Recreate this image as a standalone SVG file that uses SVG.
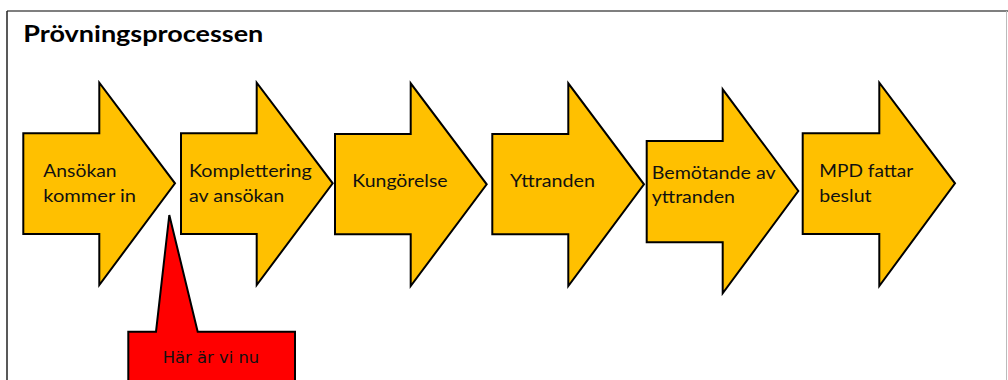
<svg xmlns="http://www.w3.org/2000/svg" width="1008" height="380" viewBox="0 0 1008 380">
<style>
.arrow{fill:#FFC000;stroke:#000;stroke-width:2;stroke-linejoin:miter}
.lbl{font-family:Lato,"Open Sans",sans-serif;font-size:17px;fill:#111}
.title{font-family:Lato,"Open Sans",sans-serif;font-size:22.5px;font-weight:bold;fill:#000}
.callout{fill:#FF0000;stroke:#000;stroke-width:2}
.cl{font-family:"DejaVu Sans",sans-serif;font-size:16.4px;fill:#111}
</style>
<rect x="0" y="0" width="1008" height="380" fill="#fff"/>
<g id="frame">
<line x1="7" y1="11" x2="1008" y2="11" stroke="#555" stroke-width="1.5"/>
<line x1="7" y1="11" x2="7" y2="380" stroke="#222" stroke-width="1.5"/>
<line x1="1006.5" y1="11" x2="1006.5" y2="380" stroke="#bbb" stroke-width="1"/>
</g>
<text class="title" x="23.3" y="41.5" textLength="240" lengthAdjust="spacingAndGlyphs">Prövningsprocessen</text>
<g id="connectors"></g>
<g id="step1">
<polygon class="arrow" points="23.3,133.3 99.3,133.3 99.3,82.7 175,183.3 99.3,285 99.3,234 23.3,234"/>
<text class="lbl" x="43.3" y="176.7" textLength="73.3" lengthAdjust="spacingAndGlyphs">Ansökan</text>
<text class="lbl" x="43.3" y="201.7" textLength="92.7" lengthAdjust="spacingAndGlyphs">kommer in</text>
</g>
<g id="step2">
<polygon class="arrow" points="181,133.3 256.7,133.3 256.7,82.7 332.7,183.3 256.7,285 256.7,234 181,234"/>
<text class="lbl" x="189" y="176.7" textLength="122.7" lengthAdjust="spacingAndGlyphs">Komplettering</text>
<text class="lbl" x="189" y="201.7" textLength="95.3" lengthAdjust="spacingAndGlyphs">av ansökan</text>
</g>
<g id="step3">
<polygon class="arrow" points="335,134 410.7,134 410.7,83.3 486.7,184.3 410.7,286 410.7,234.3 335,234.3"/>
<text class="lbl" x="352.3" y="187.3" textLength="95.3" lengthAdjust="spacingAndGlyphs">Kungörelse</text>
</g>
<g id="step4">
<polygon class="arrow" points="492.3,134 568.3,134 568.3,83.3 644,184.3 568.3,286 568.3,234.3 492.3,234.3"/>
<text class="lbl" x="510" y="187.3" textLength="85" lengthAdjust="spacingAndGlyphs">Yttranden</text>
</g>
<g id="step5">
<polygon class="arrow" points="646.7,141 722.7,141 722.7,89.3 798.3,191 722.7,293.3 722.7,242.3 646.7,242.3"/>
<text class="lbl" x="651.7" y="179" textLength="124" lengthAdjust="spacingAndGlyphs">Bemötande av</text>
<text class="lbl" x="651.7" y="203.3" textLength="83.3" lengthAdjust="spacingAndGlyphs">yttranden</text>
</g>
<g id="step6">
<polygon class="arrow" points="802.7,133.3 879.3,133.3 879.3,82.7 955,183.3 879.3,286 879.3,234 802.7,234"/>
<text class="lbl" x="819.3" y="176.7" textLength="94" lengthAdjust="spacingAndGlyphs">MPD fattar</text>
<text class="lbl" x="819.3" y="201.7" textLength="52.3" lengthAdjust="spacingAndGlyphs">beslut</text>
</g>
<g id="callout">
<polygon class="callout" points="128.3,331.7 156,331.7 169.3,215 197.7,331.7 295,331.7 295,382 128.3,382"/>
<text class="cl" x="162.7" y="363.3">Här är vi nu</text>
</g>
</svg>
